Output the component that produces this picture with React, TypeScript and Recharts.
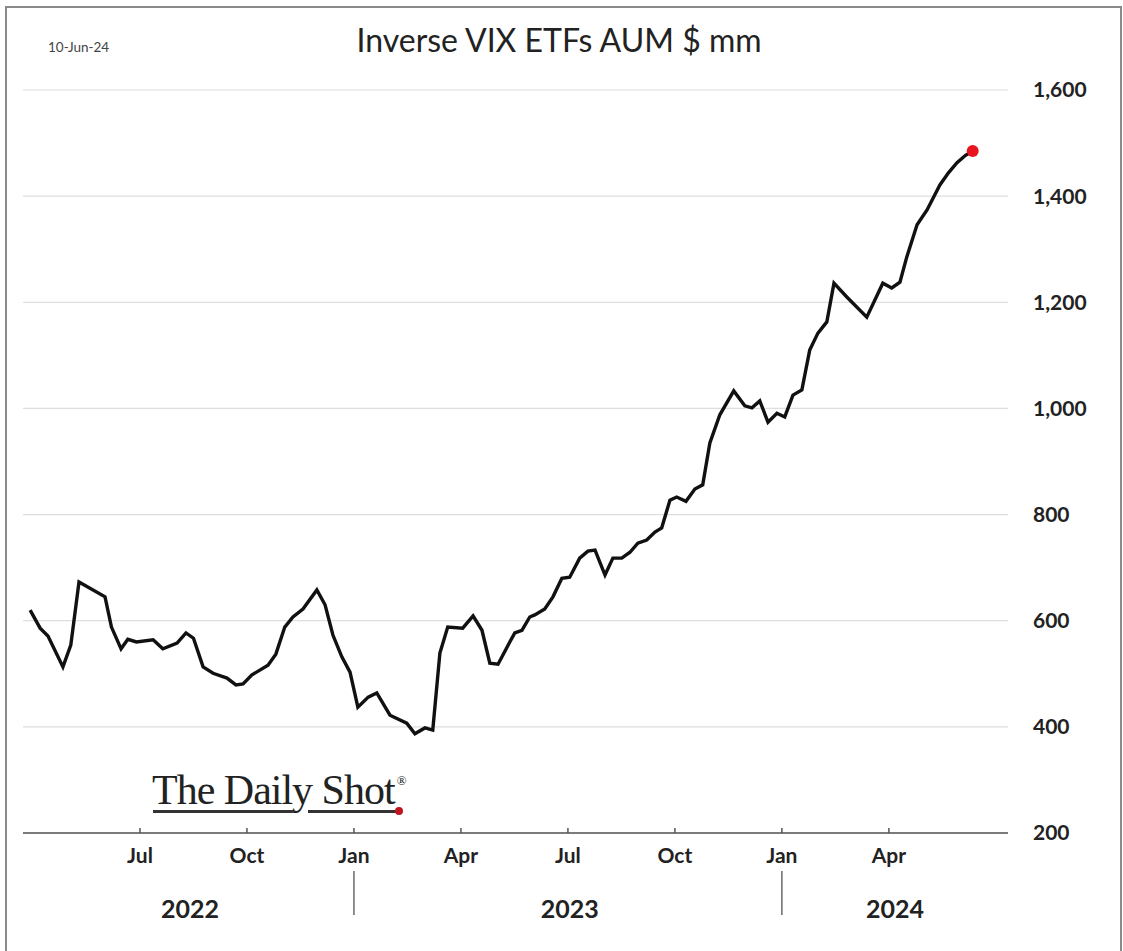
import * as React from "react";
import { LineChart, Line, XAxis, YAxis, CartesianGrid, ReferenceDot } from "recharts";

// x = months since Jan 2022 (fractional), y = AUM in $ mm
const monthIdx = [
  2.92, 3.2, 3.42, 3.84, 4.06, 4.29, 5.02, 5.2, 5.47, 5.66, 5.9, 6.37, 6.64, 7.04, 7.29, 7.5,
  7.77, 8.05, 8.44, 8.69, 8.89, 9.14, 9.59, 9.81, 10.06, 10.29, 10.57, 10.96, 11.19, 11.41,
  11.66, 11.89, 12.11, 12.4, 12.64, 13.01, 13.48, 13.71, 13.99, 14.21, 14.41, 14.63, 15.05,
  15.34, 15.59, 15.81, 16.04, 16.37, 16.51, 16.71, 16.93, 17.07, 17.35, 17.58, 17.83, 18.05,
  18.33, 18.56, 18.76, 19.04, 19.26, 19.51, 19.74, 19.96, 20.21, 20.44, 20.63, 20.86, 21.05,
  21.31, 21.56, 21.78, 21.98, 22.26, 22.65, 22.96, 23.16, 23.38, 23.61, 23.86, 24.08, 24.31,
  24.56, 24.78, 25.01, 25.26, 25.46, 25.82, 26.38, 26.83, 27.08, 27.31, 27.5, 27.79, 28.07,
  28.43, 28.67, 28.91, 29.15, 29.35,
];
const aum = [
  620, 586, 571, 513, 554, 673, 645, 588, 547, 565, 560, 564, 547, 558, 577, 567,
  513, 501, 492, 479, 481, 498, 516, 537, 588, 607, 622, 658, 630, 573,
  532, 503, 437, 456, 464, 422, 407, 387, 398, 394, 539, 588, 586,
  609, 582, 520, 518, 560, 577, 582, 607, 611, 622, 645, 680, 682,
  718, 731, 733, 686, 718, 718, 729, 746, 752, 767, 775, 827, 833,
  825, 848, 856, 935, 988, 1033, 1005, 1001, 1014, 974, 991, 984, 1025,
  1035, 1110, 1142, 1163, 1236, 1210, 1172, 1236, 1227, 1238, 1285, 1346, 1374,
  1421, 1444, 1463, 1477, 1485,
];

const quarterTicks = [6, 9, 12, 15, 18, 21, 24, 27];
const quarterLabels = ["Jul", "Oct", "Jan", "Apr", "Jul", "Oct", "Jan", "Apr"];
const yearCenters = [7.4, 18.05, 27.17];
const yearLabels = ["2022", "2023", "2024"];
const yTicks = [200, 400, 600, 800, 1000, 1200, 1400, 1600];

const data = monthIdx.map((m, i) => ({ m, v: aum[i] }));
const last = data.length - 1;

const MonthTick = (props: any) => {
  const { x, y, index } = props;
  const label = quarterLabels[index] ?? "";
  return (
    <g>
      <line x1={x} x2={x} y1={y - 5} y2={y} stroke="#555" strokeWidth={1.5} />
      <text x={x} y={y + 30} textAnchor="middle" fontFamily="Lato" fontWeight="bold" fontSize={21} fill="#222">
        {label}
      </text>
      {label === "Jan" && <line x1={x} x2={x} y1={y + 38} y2={y + 82} stroke="#444" strokeWidth={1.2} />}
    </g>
  );
};

const YearTick = (props: any) => {
  const { x, y, index } = props;
  return (
    <text x={x} y={y + 45} textAnchor="middle" fontFamily="Lato" fontWeight="bold" fontSize={25} fill="#222">
      {yearLabels[index]}
    </text>
  );
};

const fmt = (v: number) => v.toLocaleString("en-US");

export default function App() {
  return (
    <div style={{ position: "absolute", left: 0, top: 0, width: 1123, height: 951, background: "#fff", overflow: "hidden" }}>
      <div style={{ position: "absolute", left: 5, top: 6, width: 1113, height: 960, border: "2px solid #8a8a8a" }} />
      <div style={{ position: "absolute", left: 48, top: 39, fontFamily: "Lato", fontSize: 13.5, color: "#444" }}>10-Jun-24</div>
      <div style={{ position: "absolute", left: 0, width: 1118, top: 20, textAlign: "center", fontFamily: "Lato", fontSize: 32, color: "#222" }}>
        Inverse VIX ETFs AUM $ mm
      </div>
      <div style={{ position: "absolute", left: 0, top: 0 }}>
        <LineChart width={1123} height={951} data={data} margin={{ top: 90, right: 10, left: 23, bottom: 0 }}>
          <CartesianGrid vertical={false} stroke="#dedede" strokeWidth={1.2} />
          <XAxis
            dataKey="m"
            type="number"
            domain={[2.72, 30.34]}
            ticks={quarterTicks}
            interval={0}
            height={40}
            tickSize={0}
            tickMargin={0}
            axisLine={{ stroke: "#555", strokeWidth: 1.5 }}
            tickLine={false}
            tick={<MonthTick />}
            allowDataOverflow
          />
          <XAxis
            xAxisId="year"
            dataKey="m"
            type="number"
            domain={[2.72, 30.34]}
            ticks={yearCenters}
            interval={0}
            height={78}
            tickSize={0}
            tickMargin={0}
            axisLine={false}
            tickLine={false}
            tick={<YearTick />}
          />
          <YAxis
            orientation="right"
            domain={[200, 1600]}
            ticks={yTicks}
            width={105}
            axisLine={false}
            tickLine={false}
            tickSize={0}
            tickMargin={25}
            tickFormatter={fmt}
            tick={{ fill: "#222", fontFamily: "Lato", fontWeight: "bold", fontSize: 21 }}
          />
          <Line
            type="linear"
            dataKey="v"
            stroke="#111"
            strokeWidth={3.4}
            dot={false}
            isAnimationActive={false}
          />
          <ReferenceDot x={monthIdx[last]} y={aum[last]} r={6} fill="#e8141e" stroke="none" />
        </LineChart>
      </div>
      <div style={{ position: "absolute", left: 152, top: 766, fontFamily: "Liberation Serif", fontSize: 42, lineHeight: "normal", color: "#222", letterSpacing: -1, whiteSpace: "nowrap" }}>
        The Daily Shot
        <span style={{ fontSize: 13, verticalAlign: "top", position: "relative", top: 7, marginLeft: 2 }}>®</span>
      </div>
      <div style={{ position: "absolute", left: 153, top: 810, width: 140, height: 3, background: "#333" }} />
      <div style={{ position: "absolute", left: 308, top: 810, width: 88, height: 3, background: "#333" }} />
      <div style={{ position: "absolute", left: 395, top: 807, width: 8, height: 8, borderRadius: 4, background: "#c0141e" }} />
    </div>
  );
}
